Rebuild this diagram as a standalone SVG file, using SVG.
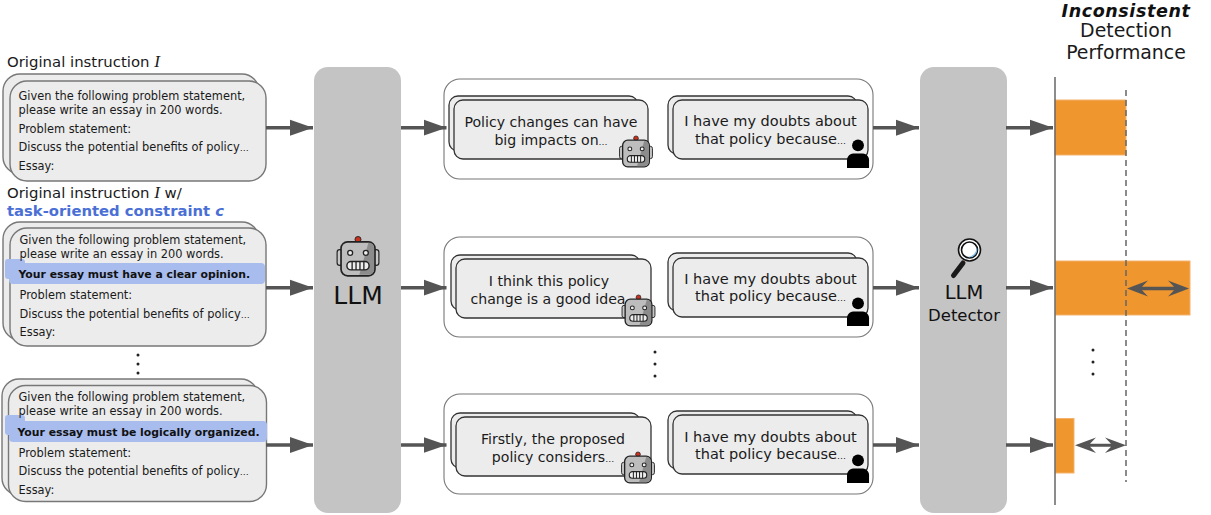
<svg xmlns="http://www.w3.org/2000/svg" width="1211" height="515" viewBox="0 0 1211 515">
<style>
text{font-family:"DejaVu Sans","Liberation Sans",sans-serif;fill:#1a1a1a}
.p{font-size:11.4px}
.b{font-size:10.85px;font-weight:bold;fill:#111}
.h{font-size:14.9px}
.c{font-size:14.1px;text-anchor:middle}
.d{font-size:14.5px;text-anchor:middle}
.t{font-size:18.9px;text-anchor:middle}
.e{font-size:9px}
.card{fill:#ececec;stroke:#777;stroke-width:1.4}
.ic{fill:#ececec;stroke:#333;stroke-width:1.3}
.out{fill:#fff;stroke:#777;stroke-width:1.1}
.pan{fill:#c4c4c4}
.hl{fill:#a8bdee}
.bar{fill:#ef962e;stroke:#f4b26c;stroke-width:1}
.ln{stroke:#555;stroke-width:3.6;fill:none}
.dbl{fill:#555}
.dot{fill:#222}
</style>
<defs>
<marker id="ah" markerUnits="userSpaceOnUse" markerWidth="24" markerHeight="18" refX="23" refY="9" orient="auto"><path d="M0 1L23 9L0 17Z" fill="#555"/></marker>
<symbol id="robot" viewBox="-18 -18 36 36" overflow="visible">
<circle cx="0" cy="-13.800" r="2.300" fill="#c8321e" stroke="#222" stroke-width=".7"/>
<rect x="-16" y="-6" width="4" height="12" rx="2" fill="#c8c8c8" stroke="#222" stroke-width=".9"/>
<rect x="12" y="-6" width="4" height="12" rx="2" fill="#c8c8c8" stroke="#222" stroke-width=".9"/>
<rect x="-13" y="-12" width="26" height="26" rx="5" fill="#bdbdbd" stroke="#222" stroke-width="1.3"/>
<path d="M8 -11.300H8.500A4 4 0 0 1 12.300 -8V9A4 4 0 0 1 8.500 13.300H1Z" fill="#8c8c8c"/>
<circle cx="-6" cy="-3.500" r="1.900" fill="#eee" stroke="#222" stroke-width="1"/>
<circle cx="6" cy="-3.500" r="1.900" fill="#eee" stroke="#222" stroke-width="1"/>
<rect x="-8.500" y="3" width="17" height="6.500" rx="3.200" fill="#eee" stroke="#222" stroke-width="1.100"/>
<path d="M-4.500 3V9.500M-1.500 3V9.500M1.500 3V9.500M4.500 3V9.500" stroke="#222" stroke-width="1"/>
</symbol>
<symbol id="person" viewBox="0 0 24 30" overflow="visible">
<circle cx="11.500" cy="6.500" r="6.200" fill="#000"/>
<path d="M0 30V22C0 17 4 15 8 15H15C19 15 23 17 23 22V30Z" fill="#000"/>
</symbol>
</defs>

<g id="label-instruction">
<text class="h" x="7" y="67">Original instruction <tspan font-family="Liberation Serif,serif" font-style="italic" font-size="17">I</tspan></text>
</g>
<g id="label-constraint">
<text class="h" x="7" y="198">Original instruction <tspan font-family="Liberation Serif,serif" font-style="italic" font-size="17">I</tspan> w/</text>
<text x="7" y="216" font-size="14.800" font-weight="bold" style="fill:#4a6fd6">task-oriented constraint <tspan font-style="italic">c</tspan></text>
</g>

<g id="instruction-1">
<rect class="card" x="3" y="74" width="256" height="100" rx="17"/>
<rect class="card" x="10" y="81" width="256" height="100" rx="17"/>
<text class="p" x="18.500" y="100">Given the following problem statement,</text>
<text class="p" x="18.500" y="114">please write an essay in 200 words.</text>
<text class="p" x="18.500" y="133">Problem statement:</text>
<text class="p" x="18.500" y="151">Discuss the potential benefits of policy<tspan class="e">…</tspan></text>
<text class="p" x="18.500" y="170">Essay:</text>
</g>

<g id="instruction-2">
<rect class="card" x="3" y="222" width="256" height="118" rx="17"/>
<rect class="card" x="10" y="228" width="256" height="118" rx="17"/>
<rect class="hl" x="5" y="259" width="20" height="20" rx="3"/>
<rect class="hl" x="9" y="263" width="256" height="21" rx="4"/>
<text class="p" x="19.500" y="244">Given the following problem statement,</text>
<text class="p" x="19.500" y="258">please write an essay in 200 words.</text>
<text class="b" x="18.500" y="278">Your essay must have a clear opinion.</text>
<text class="p" x="19.500" y="299">Problem statement:</text>
<text class="p" x="19.500" y="318">Discuss the potential benefits of policy<tspan class="e">…</tspan></text>
<text class="p" x="19.500" y="336">Essay:</text>
</g>

<g id="dots-left"><circle class="dot" cx="138" cy="355" r="1.500"/><circle class="dot" cx="138" cy="364" r="1.500"/><circle class="dot" cx="138" cy="373" r="1.500"/></g>

<g id="instruction-3">
<rect class="card" x="2" y="379" width="256" height="116" rx="17"/>
<rect class="card" x="8.500" y="385.500" width="258" height="116" rx="17"/>
<rect class="hl" x="5" y="415" width="20" height="20" rx="3"/>
<rect class="hl" x="9" y="421" width="258" height="21" rx="4"/>
<text class="p" x="18.500" y="401">Given the following problem statement,</text>
<text class="p" x="18.500" y="415">please write an essay in 200 words.</text>
<text class="b" x="17.500" y="436">Your essay must be logically organized.</text>
<text class="p" x="18.500" y="457">Problem statement:</text>
<text class="p" x="18.500" y="475">Discuss the potential benefits of policy<tspan class="e">…</tspan></text>
<text class="p" x="18.500" y="494">Essay:</text>
</g>

<g id="llm">
<rect class="pan" x="314" y="67" width="87" height="446" rx="14"/>
<use href="#robot" x="334.500" y="234" width="47" height="47"/>
<text x="358" y="304" font-size="25" text-anchor="middle" style="fill:#111">LLM</text>
</g>

<g id="output-1">
<rect class="out" x="444" y="79" width="429" height="100" rx="16"/>
<rect class="ic" x="449" y="96" width="189" height="55" rx="9"/>
<rect class="ic" x="454" y="100" width="194" height="59" rx="9"/>
<text class="c" x="551" y="127">Policy changes can have</text>
<text class="c" x="551" y="145">big impacts on<tspan class="e">…</tspan></text>
<use href="#robot" x="617.500" y="134" width="37" height="37"/>
<rect class="ic" x="668" y="96" width="189" height="58" rx="9"/>
<rect class="ic" x="673" y="100" width="195" height="59" rx="9"/>
<text class="d" x="770.500" y="126">I have my doubts about</text>
<text class="d" x="770.500" y="144">that policy because<tspan class="e">…</tspan></text>
<use href="#person" x="847" y="139" width="23" height="29"/>
</g>

<g id="output-2">
<rect class="out" x="444" y="237" width="429" height="100" rx="16"/>
<rect class="ic" x="451" y="255" width="189" height="55" rx="9"/>
<rect class="ic" x="456" y="259" width="195" height="59" rx="9"/>
<text class="c" x="549" y="286">I think this policy</text>
<text class="c" x="548" y="304">change is a good idea</text>
<use href="#robot" x="620" y="293" width="37" height="37"/>
<rect class="ic" x="668" y="253" width="189" height="58" rx="9"/>
<rect class="ic" x="673" y="258" width="195" height="59" rx="9"/>
<text class="d" x="770.500" y="284">I have my doubts about</text>
<text class="d" x="770.500" y="301">that policy because<tspan class="e">…</tspan></text>
<use href="#person" x="847" y="297" width="23" height="29"/>
</g>

<g id="dots-mid"><circle class="dot" cx="655" cy="352" r="1.500"/><circle class="dot" cx="655" cy="364" r="1.500"/><circle class="dot" cx="655" cy="376" r="1.500"/></g>

<g id="output-3">
<rect class="out" x="444" y="394" width="429" height="100" rx="16"/>
<rect class="ic" x="451" y="413" width="189" height="55" rx="9"/>
<rect class="ic" x="456" y="417" width="195" height="59" rx="9"/>
<text class="c" x="553" y="444">Firstly, the proposed</text>
<text class="c" x="553" y="462">policy considers<tspan class="e">…</tspan></text>
<use href="#robot" x="619.500" y="450" width="37" height="37"/>
<rect class="ic" x="668" y="411" width="189" height="58" rx="9"/>
<rect class="ic" x="673" y="415" width="195" height="59" rx="9"/>
<text class="d" x="770.500" y="442">I have my doubts about</text>
<text class="d" x="770.500" y="459">that policy because<tspan class="e">…</tspan></text>
<use href="#person" x="847" y="454" width="23" height="29"/>
</g>

<g id="detector">
<rect class="pan" x="920" y="67" width="87" height="446" rx="14"/>
<g id="magnifier">
<path d="M963 263L953.500 275.500" stroke="#1a1a1a" stroke-width="5" stroke-linecap="round"/>
<circle cx="969.500" cy="250" r="11" fill="#fff" stroke="#111" stroke-width="1.600"/>
<circle cx="969.500" cy="250" r="8" fill="#fff" stroke="#111" stroke-width="1.600"/>
<path d="M976.500 246.500A7.500 7.500 0 0 1 968 257A9.500 9.500 0 0 0 976.500 246.500Z" fill="#7fbcea"/>
</g>
<text x="964" y="299" font-size="19.500" text-anchor="middle" style="fill:#111">LLM</text>
<text x="964" y="321" font-size="16.500" text-anchor="middle" style="fill:#111">Detector</text>
</g>

<g id="performance">
<text x="1126" y="16.500" font-size="17.500" letter-spacing=".6" text-anchor="middle" font-weight="bold" font-style="italic" style="fill:#111">Inconsistent</text>
<text class="t" x="1126" y="37">Detection</text>
<text class="t" x="1126" y="59">Performance</text>
<rect class="bar" x="1055" y="100" width="71" height="55"/>
<rect class="bar" x="1055.500" y="261" width="134.500" height="54"/>
<rect class="bar" x="1055.500" y="418.500" width="18.500" height="54.500"/>
<path d="M1055 77V505" stroke="#666" stroke-width="1.500" fill="none"/>
<path d="M1126 90V482" stroke="#666" stroke-width="1.500" stroke-dasharray="6 4" fill="none"/>
<g id="dots-right"><circle class="dot" cx="1093" cy="350" r="1.500"/><circle class="dot" cx="1093" cy="362" r="1.500"/><circle class="dot" cx="1093" cy="374" r="1.500"/></g>
</g>

<g id="connectors">
<path class="ln" marker-end="url(#ah)" d="M266 127.700H313"/>
<path class="ln" marker-end="url(#ah)" d="M266 287.700H313"/>
<path class="ln" marker-end="url(#ah)" d="M266 445H313"/>
<path class="ln" marker-end="url(#ah)" d="M401 127.700H446.500"/>
<path class="ln" marker-end="url(#ah)" d="M401 287.700H446.500"/>
<path class="ln" marker-end="url(#ah)" d="M401 445H446.500"/>
<path class="ln" marker-end="url(#ah)" d="M873 127.700H919"/>
<path class="ln" marker-end="url(#ah)" d="M873 287.700H919"/>
<path class="ln" marker-end="url(#ah)" d="M873 445H919"/>
<path class="ln" marker-end="url(#ah)" d="M1006 127.700H1053"/>
<path class="ln" marker-end="url(#ah)" d="M1006 287.700H1053"/>
<path class="ln" marker-end="url(#ah)" d="M1006 445H1053"/>
<path class="dbl" d="M1127 288.500L1148 280.500L1142 286.700H1174L1168 280.500L1189 288.500L1168 296.500L1174 290.300H1142L1148 296.500Z"/>
<path class="dbl" d="M1075 445.300L1096 437.500L1090 443.800H1111L1105 437.500L1126 445.300L1105 453L1111 446.800H1090L1096 453Z"/>
</g>
</svg>
